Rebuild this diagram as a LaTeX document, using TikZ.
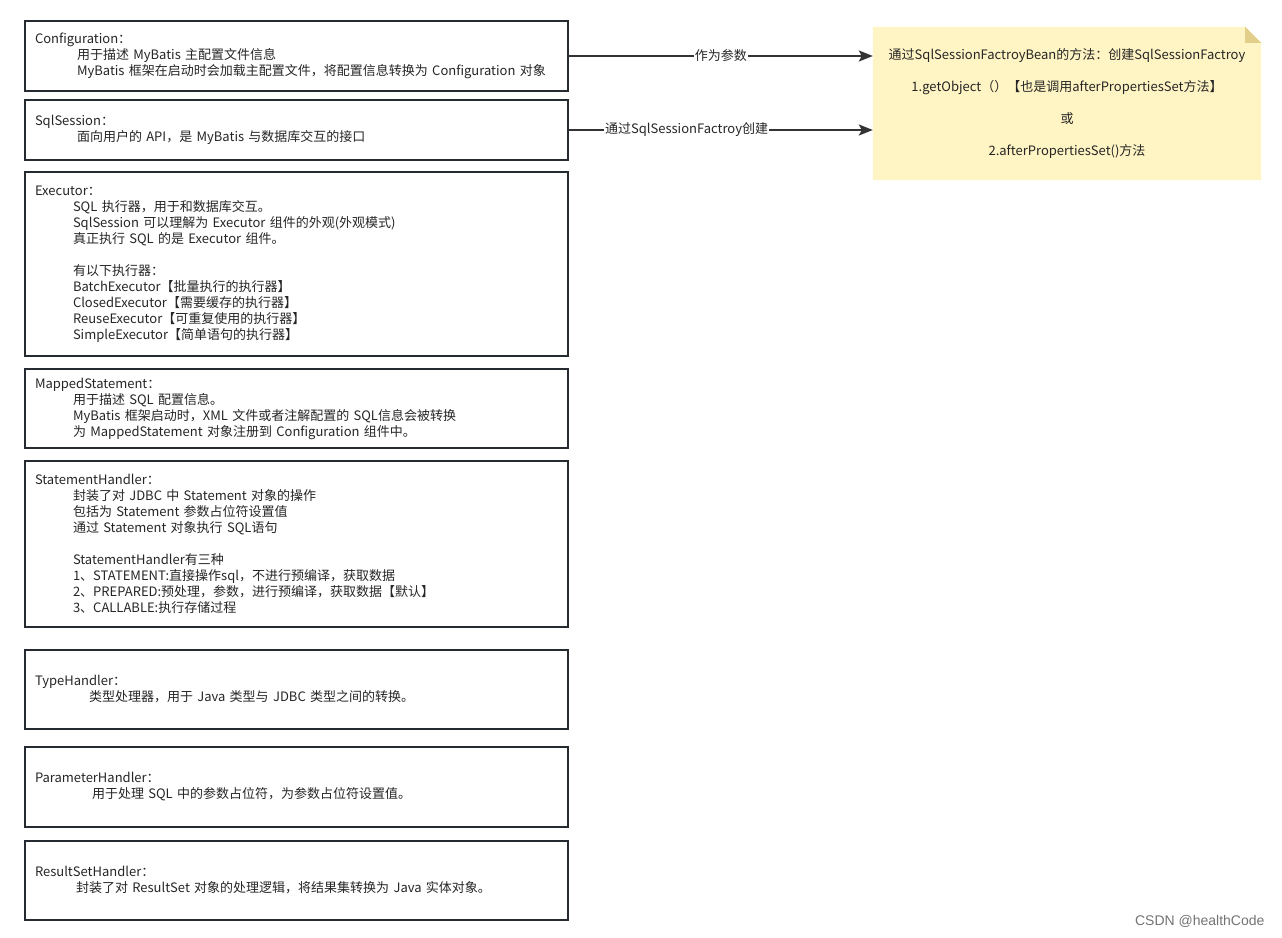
\documentclass[tikz,border=0pt]{standalone}
\usepackage{fontspec}
\setmainfont{Noto Sans CJK SC}
\newfontfamily\wmfont{Liberation Sans}
\usetikzlibrary{arrows.meta, positioning, backgrounds}

\definecolor{boxline}{HTML}{262B31}
\definecolor{arrowline}{HTML}{333333}
\definecolor{notefill}{HTML}{FFF4C3}
\definecolor{notefold}{HTML}{E3CF8C}

\newcommand{\indl}[1][38pt]{\hspace*{#1}}

\tikzset{
  compbox/.style={draw=boxline, line width=2pt, fill=white, text width=523pt,
    inner xsep=10pt, inner ysep=0pt, align=left, text=black!85},
  flow/.style={draw=arrowline, line width=2pt, -{Stealth[length=14pt, width=11pt, inset=3pt]}},
  flowlabel/.style={fill=white, inner sep=1pt, text=black!85}
}

\begin{document}
\begin{tikzpicture}[x=1pt, y=-1pt, every node/.style={font=\fontsize{13}{16}\selectfont}]
\useasboundingbox (0,0) rectangle (1282,937);

% component boxes
\node[compbox, minimum height=70pt] (cfg) at (296.5,56) {Configuration：\\
\indl[42pt]用于描述 MyBatis 主配置文件信息\\
\indl[42pt]MyBatis 框架在启动时会加载主配置文件，将配置信息转换为 Configuration 对象};

\node[compbox, minimum height=60pt] (sess) at (296.5,130) {SqlSession：\\
\indl[42pt]面向用户的 API，是 MyBatis 与数据库交互的接口};

\node[compbox, minimum height=184pt] (exec) at (296.5,264) {Executor：\\
\indl SQL 执行器，用于和数据库交互。\\
\indl SqlSession 可以理解为 Executor 组件的外观(外观模式)\\
\indl 真正执行 SQL 的是 Executor 组件。\\[16pt]
\indl 有以下执行器：\\
\indl BatchExecutor【批量执行的执行器】\\
\indl ClosedExecutor【需要缓存的执行器】\\
\indl ReuseExecutor【可重复使用的执行器】\\
\indl SimpleExecutor【简单语句的执行器】};

\node[compbox, minimum height=79pt] (mapped) at (296.5,408.5) {MappedStatement：\\
\indl 用于描述 SQL 配置信息。\\
\indl MyBatis 框架启动时，XML 文件或者注解配置的 SQL信息会被转换\\
\indl 为 MappedStatement 对象注册到 Configuration 组件中。};

\node[compbox, minimum height=166pt] (stmt) at (296.5,544) {StatementHandler：\\
\indl 封装了对 JDBC 中 Statement 对象的操作\\
\indl 包括为 Statement 参数占位符设置值\\
\indl 通过 Statement 对象执行 SQL语句\\[16pt]
\indl StatementHandler有三种\\
\indl 1、STATEMENT:直接操作sql，不进行预编译，获取数据\\
\indl 2、PREPARED:预处理，参数，进行预编译，获取数据【默认】\\
\indl 3、CALLABLE:执行存储过程};

\node[compbox, minimum height=79pt] (type) at (296.5,689.5) {TypeHandler：\\
\indl[54pt]类型处理器，用于 Java 类型与 JDBC 类型之间的转换。};

\node[compbox, minimum height=80pt] (param) at (296.5,787) {ParameterHandler：\\
\indl[57pt]用于处理 SQL 中的参数占位符，为参数占位符设置值。};

\node[compbox, minimum height=79pt] (result) at (296.5,880.5) {ResultSetHandler：\\
\indl[41pt]封装了对 ResultSet 对象的处理逻辑，将结果集转换为 Java 实体对象。};

% note
\node[minimum width=388pt, minimum height=153pt, align=center, text=black!85] (note) at (1067,103.5)
  {通过SqlSessionFactroyBean的方法：创建SqlSessionFactroy\\[16pt]
   1.getObject（）【也是调用afterPropertiesSet方法】\\[16pt]
   或\\[16pt]
   2.afterPropertiesSet()方法};
\begin{scope}[on background layer]
  \fill[notefill] (note.north west) -- ([xshift=-16pt]note.north east)
    -- ([yshift=-16pt]note.north east) -- (note.south east) -- (note.south west) -- cycle;
  \fill[notefold] ([xshift=-16pt]note.north east) -- ([xshift=-16pt, yshift=-16pt]note.north east)
    -- ([yshift=-16pt]note.north east) -- cycle;
\end{scope}

% connectors
\draw[flow] (cfg.east) -- (note.west |- cfg.east)
  node[flowlabel, midway] {作为参数};
\draw[flow] (sess.east) -- (note.west |- sess.east)
  node[flowlabel, pos=0.387] {通过SqlSessionFactroy创建};

\node[font=\wmfont\fontsize{14}{15}\selectfont, text=black!55, anchor=east] (wm) at (1268,921) {CSDN @healthCode};
\end{tikzpicture}
\end{document}
